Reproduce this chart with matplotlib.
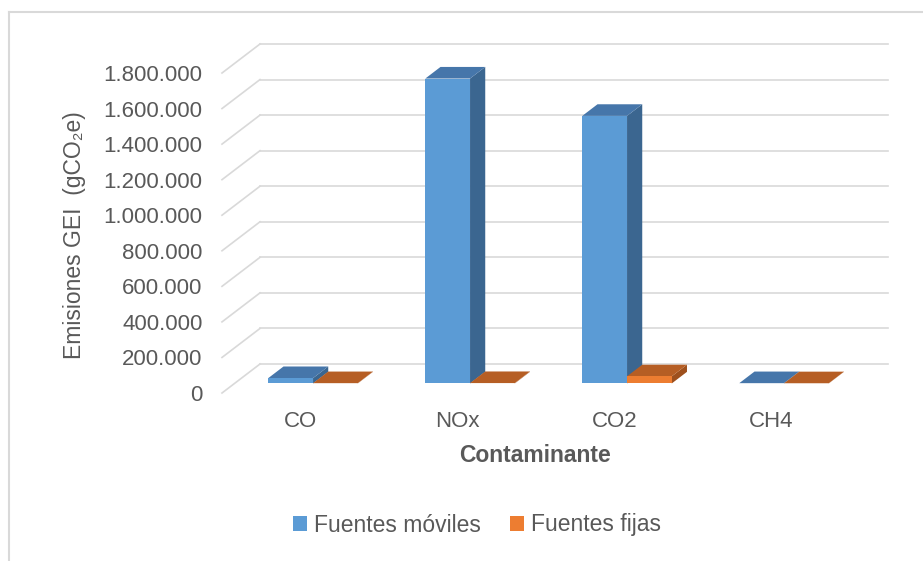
import matplotlib
matplotlib.use("Agg")
import matplotlib.pyplot as plt
from matplotlib.patches import Polygon, Patch
from matplotlib.lines import Line2D

plt.rcParams['font.family'] = ['Liberation Sans', 'DejaVu Sans']

# datos
contaminantes = ['CO', 'NOx', 'CO2', 'CH4']
fuentes_moviles = [30000, 1715000, 1505000, 1500]
fuentes_fijas = [1500, 2000, 40000, 1000]
series_names = ['Fuentes móviles', 'Fuentes fijas']
y_ticks = [0, 200000, 400000, 600000, 800000, 1000000, 1200000, 1400000, 1600000, 1800000]

def fmt_miles(v):
    return f"{v:,.0f}".replace(',', '.')

# colores (frente, arriba, lado)
azul = ('#5B9BD5', '#4676AA', '#3B6690')
naranja = ('#ED7D31', '#B65E24', '#9E501D')
gris_txt = '#595959'
gris_grid = '#D9D9D9'

W, H = 923, 561
fig = plt.figure(figsize=(W / 100, H / 100), dpi=100)

# plano frontal del grafico 3D (en pixeles)
x_left, x_right = 222, 850
y_zero, y_top = 393, 73
ax = fig.add_axes([x_left / W, 1 - y_zero / H, (x_right - x_left) / W, (y_zero - y_top) / H])
ax.set_xlim(-0.5, len(contaminantes) - 0.5)
ax.set_ylim(0, 1800000)
for s in ax.spines.values():
    s.set_visible(False)

# profundidad de la pared (pixeles -> datos)
depth_px = (38, 29)
ddx = depth_px[0] * (ax.get_xlim()[1] - ax.get_xlim()[0]) / (x_right - x_left)
ddy = depth_px[1] * (ax.get_ylim()[1] - ax.get_ylim()[0]) / (y_zero - y_top)

x0, x1 = ax.get_xlim()
for v in y_ticks:
    ax.plot([x0 + ddx, x1 + ddx], [v + ddy, v + ddy], color=gris_grid, lw=1.2, clip_on=False, zorder=0)
    ax.plot([x0, x0 + ddx], [v, v + ddy], color=gris_grid, lw=1.2, clip_on=False, zorder=0)

# barras 3D
w = 0.285
d_front, d_depth = 0.33, 0.40
fx, fy = d_front * ddx, d_front * ddy
bdx, bdy = d_depth * ddx, d_depth * ddy

def barra3d(xc, val, cols, z):
    xa = xc - w / 2 + fx
    xb = xa + w
    base = fy
    top = base + val
    lado = [(xb, base), (xb, top), (xb + bdx, top + bdy), (xb + bdx, base + bdy)]
    arriba = [(xa, top), (xb, top), (xb + bdx, top + bdy), (xa + bdx, top + bdy)]
    ax.add_patch(Polygon(lado, closed=True, facecolor=cols[2], edgecolor='none', zorder=z, clip_on=False))
    ax.add_patch(Polygon(arriba, closed=True, facecolor=cols[1], edgecolor='none', zorder=z, clip_on=False))
    ax.bar(xa, val, width=w, bottom=base, align='edge', color=cols[0], edgecolor='none', zorder=z, clip_on=False)

for i in range(len(contaminantes)):
    barra3d(i - w / 2, fuentes_moviles[i], azul, 2 + 2 * i)
    barra3d(i + w / 2, fuentes_fijas[i], naranja, 3 + 2 * i)

ax.set_xticks(range(len(contaminantes)))
ax.set_xticklabels(contaminantes)
ax.set_yticks(y_ticks)
ax.set_yticklabels([fmt_miles(v) for v in y_ticks])
ax.tick_params(axis='both', length=0, labelsize=16, labelcolor=gris_txt)
ax.tick_params(axis='x', pad=13)
ax.tick_params(axis='y', pad=14)

fig.text(535 / W, 1 - 456 / H, 'Contaminante', ha='center', va='center', fontsize=16.5,
         fontweight='bold', color=gris_txt)
fig.text(75 / W, 1 - 235 / H, 'Emisiones GEI  (gCO\u2082e)', ha='center', va='center', rotation=90,
         fontsize=16.5, color=gris_txt)

handles = [Patch(facecolor=azul[0]), Patch(facecolor=naranja[0])]
fig.legend(handles, series_names, loc='center', bbox_to_anchor=(477 / W, 1 - 525 / H), ncol=2,
           frameon=False, fontsize=16.5, labelcolor=gris_txt, handlelength=0.6, handleheight=0.6,
           handletextpad=0.3, columnspacing=1.3)

# borde del area del grafico
fig.add_artist(Line2D([9 / W, 9 / W], [0, 1 - 12 / H], color=gris_grid, lw=1.5))
fig.add_artist(Line2D([9 / W, 1], [1 - 12 / H, 1 - 12 / H], color=gris_grid, lw=1.5))

fig.savefig('out.png', dpi=100, facecolor='white')
